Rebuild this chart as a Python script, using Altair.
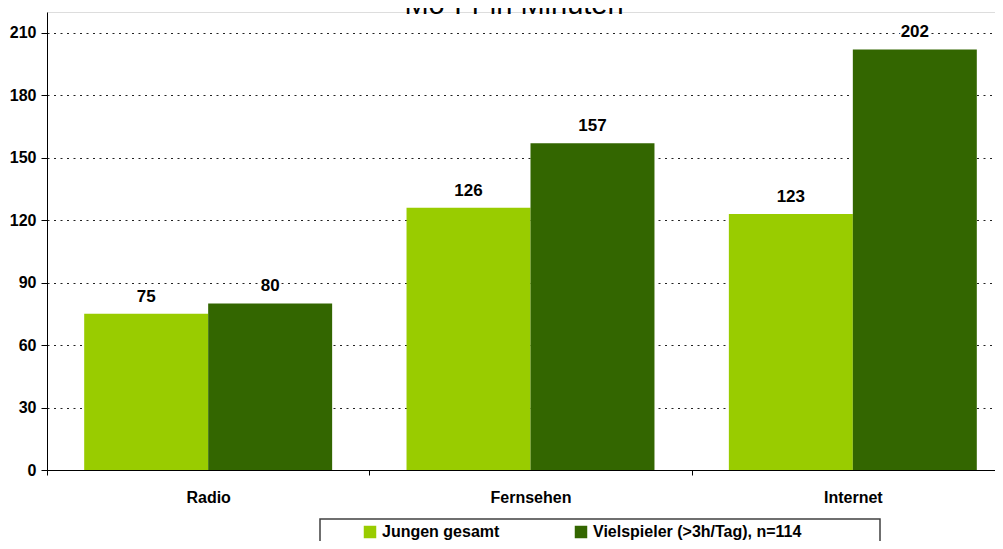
import altair as alt
import pandas as pd

categories = ["Radio", "Fernsehen", "Internet"]
series = ["Jungen gesamt", "Vielspieler (>3h/Tag), n=114"]
jungen_gesamt = [75, 126, 123]
vielspieler = [80, 157, 202]
colors = ["#99CC00", "#336600"]
y_ticks = [0, 30, 60, 90, 120, 150, 180, 210]
title_text = "Mo-Fr in Minuten"

rows = []
for i, c in enumerate(categories):
    rows.append({"cat": c, "series": series[0], "value": jungen_gesamt[i]})
    rows.append({"cat": c, "series": series[1], "value": vielspieler[i]})
df = pd.DataFrame(rows)

FONT = "Liberation Sans"

x_enc = alt.X(
    "cat:N",
    sort=categories,
    scale=alt.Scale(range=[0, 967], paddingInner=0, paddingOuter=0),
    axis=alt.Axis(
        title=None, labelAngle=0, tickBand="extent", labelFont=FONT, labelFontSize=16,
        labelFontWeight="bold", labelColor="black", labelPadding=14, tickSize=5,
        tickColor="black", domainColor="black", grid=False,
    ),
)
xoff_enc = alt.XOffset("series:N", sort=series,
                       scale=alt.Scale(paddingOuter=0.3, paddingInner=0))
y_enc = alt.Y(
    "value:Q",
    scale=alt.Scale(domain=[0, 220], nice=False),
    axis=alt.Axis(
        title=None, values=y_ticks, labelFont=FONT, labelFontSize=16, labelFontWeight="bold",
        labelColor="black", labelPadding=5, tickSize=6, tickColor="black",
        domainColor="black", grid=True, gridColor="#222222", gridDash=[2, 4.5], gridWidth=1,
    ),
)

bars = alt.Chart(df).mark_bar().encode(
    x=x_enc,
    xOffset=xoff_enc,
    y=y_enc,
    color=alt.Color(
        "series:N", sort=series,
        scale=alt.Scale(domain=series, range=colors),
        legend=alt.Legend(
            orient="none", legendX=273, legendY=507, direction="horizontal",
            title="\u00a0", titleOrient="right", titlePadding=74, titleFontSize=16,
            strokeColor="#404040", fillColor="white", padding=5,
            symbolType="square", symbolSize=156, symbolStrokeWidth=0, symbolOffset=37,
            labelFont=FONT, labelFontSize=16, labelFontWeight="bold", labelColor="black",
            labelOffset=4, columnPadding=36, labelLimit=400,
        ),
    ),
)

halo = alt.Chart(df).mark_text(
    font=FONT, fontSize=17, fontWeight="bold", baseline="alphabetic", dy=-12,
    color="white", stroke="white", strokeWidth=4,
).encode(x=alt.X("cat:N", sort=categories), xOffset=alt.XOffset("series:N", sort=series),
         y="value:Q", text="value:Q")

labels = alt.Chart(df).mark_text(
    font=FONT, fontSize=17, fontWeight="bold", baseline="alphabetic", dy=-12, color="black",
).encode(x=alt.X("cat:N", sort=categories), xOffset=alt.XOffset("series:N", sort=series),
         y="value:Q", text="value:Q")

title = alt.Chart(pd.DataFrame({"t": [title_text]})).mark_text(
    font=FONT, fontSize=29, baseline="alphabetic", align="center", color="black",
).encode(x=alt.value(467), y=alt.value(2), text="t:N")

chart = alt.layer(bars, halo, labels, title).properties(
    width=956, height=458,
    autosize=alt.AutoSizeParams(type="none"),
    padding={"left": 39, "top": 4, "right": -8, "bottom": 71},
).configure_view(stroke=None).configure(background="white").configure_legend(strokeWidth=1.5)

chart.save("out.html", embed_options={"renderer": "svg", "actions": False})
